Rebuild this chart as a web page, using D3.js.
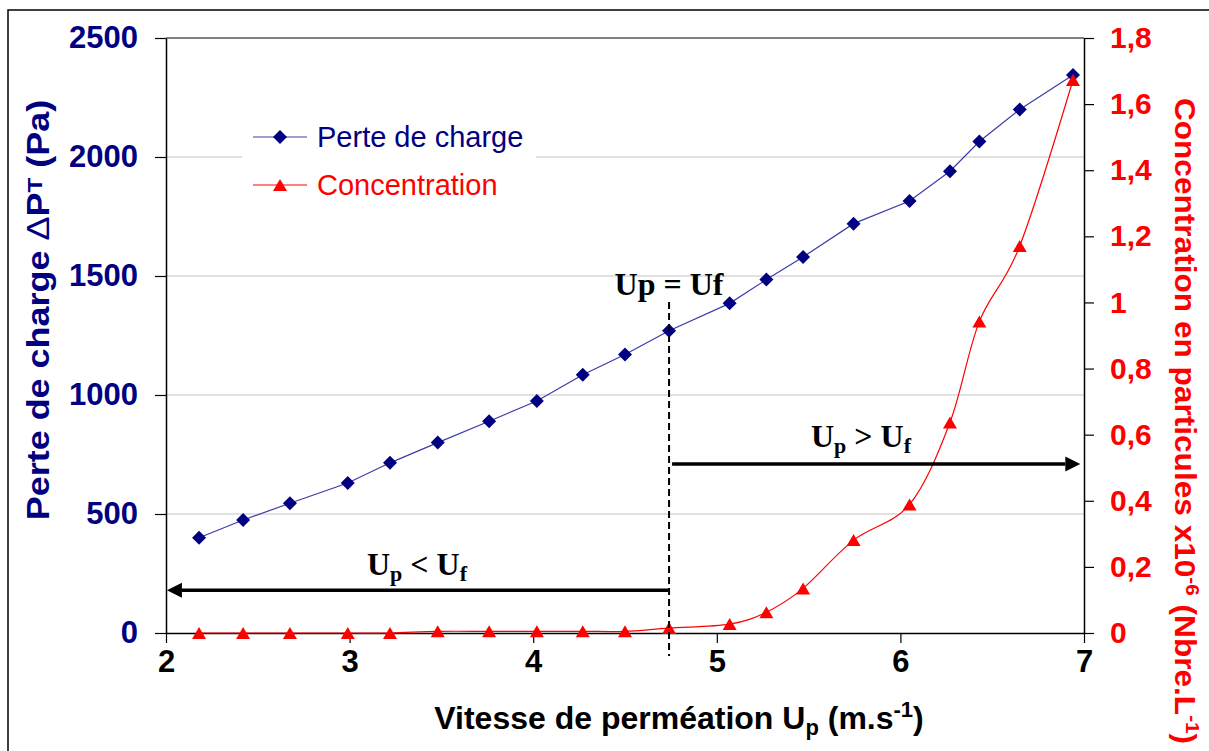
<!DOCTYPE html>
<html>
<head>
<meta charset="utf-8">
<script src="https://cdn.jsdelivr.net/npm/d3@7/dist/d3.min.js"></script>
<style>
  body { margin: 0; background: #fff; }
  svg { display: block; }
</style>
</head>
<body>
<svg id="chart" width="1209" height="751"></svg>
<script>
// Permeation velocity (m/s) for each measurement
const vitesse = [2.18, 2.42, 2.675, 2.99, 3.22, 3.48, 3.76, 4.02, 4.27, 4.50,
                 4.74, 5.07, 5.27, 5.47, 5.745, 6.05, 6.27, 6.43, 6.65, 6.94];
// Pressure drop ΔPT (Pa)
const perteCharge = [400, 475, 545, 630, 715, 800, 890, 975, 1085, 1170,
                     1270, 1385, 1485, 1580, 1720, 1815, 1940, 2065, 2200, 2345];
// Particle concentration x10^-6 (Nbre/L)
const concentration = [0, 0, 0, 0, 0, 0.005, 0.005, 0.005, 0.005, 0.005,
                       0.015, 0.027, 0.063, 0.135, 0.281, 0.389, 0.637, 0.942, 1.171, 1.673];

const xTicks = [2, 3, 4, 5, 6, 7];
const leftTicks = [0, 500, 1000, 1500, 2000, 2500];
const rightTicks = [0, 0.2, 0.4, 0.6, 0.8, 1, 1.2, 1.4, 1.6, 1.8];
const legendLabels = ["Perte de charge", "Concentration"];

// Critical velocity Up = Uf and arrow levels (in Pa, left axis units)
const uf = 4.74;
const arrowLow = 180;
const arrowHigh = 710;

const NAVY = "#000080", LINE_BLUE = "#3c3ca8", RED = "#ff0000";
const SANS = "'Liberation Sans', Arial, sans-serif";
const SERIF = "'Liberation Serif', 'Times New Roman', serif";

const svg = d3.select("#chart");
const plot = { left: 166, right: 1084, top: 38, bottom: 633 };

const x = d3.scaleLinear().domain([2, 7]).range([plot.left, plot.right]);
const yL = d3.scaleLinear().domain([0, 2500]).range([plot.bottom, plot.top]);
const yR = d3.scaleLinear().domain([0, 1.8]).range([plot.bottom, plot.top]);

// Outer frame
svg.append("rect").attr("x", 8).attr("y", 10).attr("width", 1230).attr("height", 770)
  .attr("fill", "#fff").attr("stroke", "#000").attr("stroke-width", 1.5);

// Horizontal gridlines
svg.append("g").selectAll("line").data(leftTicks.filter(d => d > 0 && d < 2500)).join("line")
  .attr("x1", plot.left).attr("x2", plot.right)
  .attr("y1", d => yL(d)).attr("y2", d => yL(d))
  .attr("stroke", "#c4c4c4").attr("stroke-width", 1);
svg.append("line").attr("x1", plot.left).attr("x2", plot.right)
  .attr("y1", yL(2500)).attr("y2", yL(2500))
  .attr("stroke", "#808080").attr("stroke-width", 2);

// Axes
function styleAxis(g, color, size) {
  g.selectAll(".domain").attr("stroke", "#000").attr("stroke-width", 1.5);
  g.selectAll(".tick line").attr("stroke", "#000").attr("stroke-width", 1.2);
  g.selectAll(".tick text").attr("fill", color).attr("font-family", SANS)
    .attr("font-weight", "bold").attr("font-size", size);
}

const axL = svg.append("g").attr("transform", `translate(${plot.left},0)`)
  .call(d3.axisLeft(yL).tickValues(leftTicks).tickSize(11).tickSizeOuter(0).tickPadding(17).tickFormat(d3.format("d")));
styleAxis(axL, NAVY, 31);

const axR = svg.append("g").attr("transform", `translate(${plot.right},0)`)
  .call(d3.axisRight(yR).tickValues(rightTicks).tickSize(10).tickSizeOuter(0).tickPadding(16)
    .tickFormat(d => String(+d.toFixed(1)).replace(".", ",")));
styleAxis(axR, RED, 30);

const axB = svg.append("g").attr("transform", `translate(0,${plot.bottom})`)
  .call(d3.axisBottom(x).tickValues(xTicks).tickSize(10).tickSizeOuter(0).tickPadding(7).tickFormat(d3.format("d")));
styleAxis(axB, "#000", 31);

// Series lines
const linePerte = d3.line().x((d, i) => x(vitesse[i])).y(d => yL(d));
svg.append("path").datum(perteCharge).attr("d", linePerte)
  .attr("fill", "none").attr("stroke", LINE_BLUE).attr("stroke-width", 1.2);

const lineConc = d3.line().x((d, i) => x(vitesse[i])).y(d => yR(d)).curve(d3.curveCatmullRom.alpha(0));
svg.append("path").datum(concentration).attr("d", lineConc)
  .attr("fill", "none").attr("stroke", RED).attr("stroke-width", 1.2);

// Marker shapes
const diamond = r => `M0,${-r}L${r},0L0,${r}L${-r},0Z`;
const triangle = (w, h) => `M0,${-h / 2}L${w / 2},${h / 2}L${-w / 2},${h / 2}Z`;

svg.append("g").selectAll("path").data(perteCharge).join("path")
  .attr("transform", (d, i) => `translate(${x(vitesse[i])},${yL(d)})`)
  .attr("d", diamond(7)).attr("fill", NAVY);

svg.append("g").selectAll("path").data(concentration).join("path")
  .attr("transform", (d, i) => `translate(${x(vitesse[i])},${yR(d)})`)
  .attr("d", triangle(14, 12)).attr("fill", RED);

// Legend
const lg = svg.append("g");
lg.append("rect").attr("x", 242).attr("y", 112).attr("width", 294).attr("height", 96).attr("fill", "#fff");
const legendRows = [
  { label: legendLabels[0], color: NAVY, line: LINE_BLUE, shape: diamond(7), y: 137 },
  { label: legendLabels[1], color: RED, line: RED, shape: triangle(14, 12), y: 185 }
];
legendRows.forEach(r => {
  lg.append("line").attr("x1", 253).attr("x2", 307).attr("y1", r.y).attr("y2", r.y)
    .attr("stroke", r.line).attr("stroke-width", 1.2);
  lg.append("path").attr("transform", `translate(280,${r.y})`).attr("d", r.shape).attr("fill", r.color);
  lg.append("text").attr("x", 317).attr("y", r.y + 10).attr("fill", r.color)
    .attr("font-family", SANS).attr("font-size", 29).text(r.label);
});

// Up = Uf marker line
svg.append("line").attr("x1", x(uf)).attr("x2", x(uf)).attr("y1", 302).attr("y2", 656)
  .attr("stroke", "#000").attr("stroke-width", 2).attr("stroke-dasharray", "7,4");

// Arrows
function arrow(x0, x1, y) {
  const dir = Math.sign(x1 - x0), head = 15, half = 7.5;
  svg.append("line").attr("x1", x0).attr("x2", x1 - dir * head).attr("y1", y).attr("y2", y)
    .attr("stroke", "#000").attr("stroke-width", 3.5);
  svg.append("path")
    .attr("d", `M${x1},${y}L${x1 - dir * head},${y - half}L${x1 - dir * head},${y + half}Z`)
    .attr("fill", "#000");
}
arrow(x(uf) - 1, x(2.005), yL(arrowLow));
arrow(x(uf) + 3, x(6.98), yL(arrowHigh));

// Regime labels
function regimeLabel(cx, y, op) {
  const t = svg.append("text").attr("x", cx).attr("y", y).attr("text-anchor", "middle")
    .attr("font-family", SERIF).attr("font-weight", "bold").attr("font-size", 32).attr("fill", "#000");
  t.append("tspan").text("U");
  t.append("tspan").attr("font-size", 22).attr("dy", 6).text("p");
  t.append("tspan").attr("dy", -6).text(` ${op} U`);
  t.append("tspan").attr("font-size", 22).attr("dy", 6).text("f");
}
regimeLabel(417, 575, "<");
regimeLabel(861, 447, ">");

svg.append("text").attr("x", x(uf)).attr("y", 295).attr("text-anchor", "middle")
  .attr("font-family", SERIF).attr("font-weight", "bold").attr("font-size", 32).attr("fill", "#000")
  .text("Up = Uf");

// Axis titles (slightly stretched along the reading direction)
const tL = svg.append("text").attr("transform", "translate(49,310) rotate(-90) scale(1.16,1)")
  .attr("text-anchor", "middle").attr("font-family", SANS).attr("font-weight", "bold")
  .attr("font-size", 31).attr("fill", NAVY);
tL.append("tspan").text("Perte de charge ");
tL.append("tspan").attr("font-weight", "normal").text("Δ");
tL.append("tspan").text("P");
tL.append("tspan").attr("font-size", 21).attr("dy", -7).text("T");
tL.append("tspan").attr("dy", 7).text(" (Pa)");

const tR = svg.append("text").attr("transform", "translate(1175,421) rotate(90) scale(1.09,1)")
  .attr("text-anchor", "middle").attr("font-family", SANS).attr("font-weight", "bold")
  .attr("font-size", 29).attr("fill", RED);
tR.append("tspan").text("Concentration en particules x10");
tR.append("tspan").attr("font-size", 19).attr("dy", -11).text("-6");
tR.append("tspan").attr("dy", 11).text(" (Nbre.L");
tR.append("tspan").attr("font-size", 19).attr("dy", -11).text("-1");
tR.append("tspan").attr("dy", 11).text(")");

const tB = svg.append("text").attr("x", 679).attr("y", 729).attr("text-anchor", "middle")
  .attr("font-family", SANS).attr("font-weight", "bold").attr("font-size", 32).attr("fill", "#000");
tB.append("tspan").text("Vitesse de perméation U");
tB.append("tspan").attr("font-size", 22).attr("dy", 6).text("p");
tB.append("tspan").attr("dy", -6).text(" (m.s");
tB.append("tspan").attr("font-size", 22).attr("dy", -12).text("-1");
tB.append("tspan").attr("dy", 12).text(")");
</script>
</body>
</html>
